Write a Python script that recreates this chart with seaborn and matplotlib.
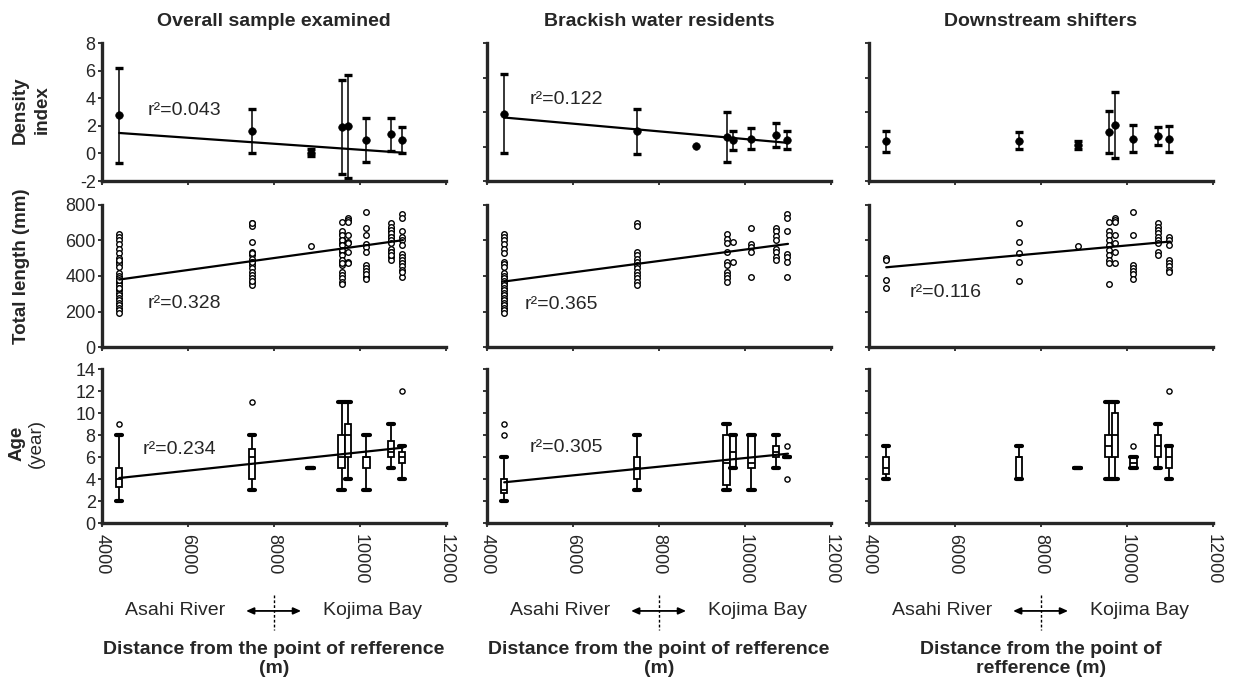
import numpy as np
import pandas as pd
import seaborn as sns
import matplotlib.pyplot as plt
from matplotlib import transforms

# sampling sites (distance from point of reference, m)
sites = [4400, 7490, 8850, 9570, 9730, 10150, 10720, 10970]

# density index, mean and SD per site
dens_all_mean = [2.75, 1.6, 0.05, 1.9, 1.95, 0.97, 1.4, 0.97]
dens_all_sd = [3.45, 1.6, 0.25, 3.4, 3.7, 1.6, 1.2, 0.95]
dens_bw_mean = [3.9, 2.87, 2.05, 2.55, 2.37, 2.46, 2.65, 2.37]
dens_bw_sd = [2.3, 1.3, np.nan, 1.45, 0.55, 0.62, 0.7, 0.52]
dens_ds_mean = [2.3, 2.34, 2.07, 2.84, 3.26, 2.44, 2.59, 2.44]
dens_ds_sd = [0.6, 0.5, 0.23, 1.2, 1.9, 0.78, 0.52, 0.73]

# total length (mm) of each fish, per site
tl_bw = [
    [637, 618, 600, 581, 553, 531, 480, 465, 452, 415, 402, 387, 374, 360, 347,
     332, 319, 304, 291, 277, 264, 249, 236, 221, 208, 194],
    [701, 683, 535, 517, 498, 480, 461, 443, 424, 406, 387, 369, 350],
    [],
    [637, 609, 585, 535, 480, 461, 424, 406, 387, 369],
    [591, 480],
    [673, 581, 563, 535, 396],
    [673, 655, 627, 600, 553, 535, 507, 489],
    [747, 729, 655, 526, 507, 480, 396],
]
tl_ds = [
    [501, 488, 377, 330],
    [700, 589, 529, 479, 371],
    [570],
    [705, 654, 631, 603, 575, 547, 520, 492, 474, 353],
    [727, 718, 705, 631, 585, 538, 474],
    [761, 631, 464, 446, 427, 409, 385],
    [696, 678, 659, 640, 622, 603, 585, 538, 520],
    [622, 603, 575, 492, 474, 455, 436, 424],
]
tl_all = [a + b for a, b in zip(tl_bw, tl_ds)]

# age (year): whisker low, Q1, median, Q3, whisker high; plus outliers
age_all = [(2, 3.25, 4, 5, 8), (3, 4, 6, 6.75, 8), (5, 5, 5, 5, 5), (3, 5, 6, 8, 11),
           (4, 6, 8, 9, 11), (3, 5, 6, 6, 8), (5, 6, 6.5, 7.5, 9), (4, 5.5, 6, 6.5, 7)]
age_all_out = [[9], [11], [], [], [], [], [], [12]]
age_bw = [(2, 2.75, 3, 4, 6), (3, 4, 5, 6, 8), None, (3, 3.5, 5.5, 8, 9),
          (5, 5, 6.5, 8, 8), (3, 5, 5.5, 8, 8), (5, 6, 6.5, 7, 8), (6, 6, 6, 6, 6)]
age_bw_out = [[8, 9], [], [], [], [], [], [], [7, 4]]
age_ds = [(4, 4.5, 5, 6, 7), (4, 4, 6, 6, 7), (5, 5, 5, 5, 5), (4, 6, 7, 8, 11),
          (4, 6, 8, 10, 11), (5, 5, 5.5, 6, 6), (5, 6, 7, 8, 9), (4, 5, 6, 7, 7)]
age_ds_out = [[], [], [], [], [], [7], [], [12]]

# regression lines (end points) and r2 labels
fit_x = [4400, 11000]
fit_dens_all = [1.48, 0.05]
fit_dens_bw = [3.68, 2.21]
fit_tl_all = [380, 602]
fit_tl_bw = [369, 581]
fit_tl_ds = [449, 594]
fit_age_all = [4.09, 6.85]
fit_age_bw = [3.7, 6.3]
r2_labels = ["r²=0.043", "r²=0.122", "r²=0.328", "r²=0.365", "r²=0.116",
             "r²=0.234", "r²=0.305"]

col_titles = ["Overall sample examined", "Brackish water residents", "Downstream shifters"]
xlab = ["Distance from the point of refference\n(m)",
        "Distance from the point of refference\n(m)",
        "Distance from the point of\nrefference (m)"]

sns.set_style("ticks")
plt.rcParams["font.family"] = ["Liberation Sans", "DejaVu Sans"]
plt.rcParams["axes.unicode_minus"] = False

W, H = 1238, 681
fig = plt.figure(figsize=(W / 100, H / 100), dpi=100)
col_left = [102, 487, 869]
col_w = 344
rows = [(43, 181), (205, 347), (369, 523)]
axes = [[fig.add_axes([c / W, 1 - b / H, col_w / W, (b - t) / H]) for c in col_left]
        for t, b in rows]


def density_panel(ax, mean, sd, fit=None):
    df = pd.DataFrame({"dist": sites, "dens": mean, "sd": sd})
    ax.errorbar(df["dist"], df["dens"], yerr=df["sd"], fmt="none", ecolor="black",
                elinewidth=1.1, capsize=2.8, capthick=2.4, zorder=2)
    sns.scatterplot(data=df, x="dist", y="dens", ax=ax, color="black", s=30,
                    edgecolor="black", zorder=3)
    if fit is not None:
        sns.lineplot(x=fit_x, y=fit, ax=ax, color="black", lw=1.6)


def length_panel(ax, groups, fit):
    df = pd.DataFrame([(d, v) for d, g in zip(sites, groups) for v in g],
                      columns=["dist", "tl"])
    sns.scatterplot(data=df, x="dist", y="tl", ax=ax, marker="o", s=16,
                    color="white", edgecolor="black", linewidth=1.0, zorder=3)
    sns.lineplot(x=fit_x, y=fit, ax=ax, color="black", lw=1.6, zorder=4)


def age_panel(ax, stats, outliers, fit=None):
    df = pd.DataFrame([(d, v) for d, st in zip(sites, stats) if st for v in st],
                      columns=["dist", "age"])
    sns.boxplot(data=df, x="dist", y="age", ax=ax, native_scale=True, orient="x",
                width=0.9, whis=(0, 100), showfliers=False, color="white",
                linecolor="black", linewidth=1.3, capprops={"linewidth": 3},
                capwidths=144)
    out = pd.DataFrame([(d, v) for d, o in zip(sites, outliers) for v in o],
                       columns=["dist", "age"])
    sns.scatterplot(data=out, x="dist", y="age", ax=ax, marker="o", s=14,
                    color="white", edgecolor="black", linewidth=1.0, zorder=3)
    if fit is not None:
        sns.lineplot(x=fit_x, y=fit, ax=ax, color="black", lw=1.6, zorder=4)


density_panel(axes[0][0], dens_all_mean, dens_all_sd, fit_dens_all)
density_panel(axes[0][1], dens_bw_mean, dens_bw_sd, fit_dens_bw)
density_panel(axes[0][2], dens_ds_mean, dens_ds_sd)
length_panel(axes[1][0], tl_all, fit_tl_all)
length_panel(axes[1][1], tl_bw, fit_tl_bw)
length_panel(axes[1][2], tl_ds, fit_tl_ds)
age_panel(axes[2][0], age_all, age_all_out, fit_age_all)
age_panel(axes[2][1], age_bw, age_bw_out, fit_age_bw)
age_panel(axes[2][2], age_ds, age_ds_out)

ylims = [(-2, 8), (0, 800), (0, 14)]
ysteps = [2, 200, 2]
for r in range(3):
    for c in range(3):
        ax = axes[r][c]
        ax.set_xlim(4000, 12000)
        ax.set_xticks(range(4000, 12001, 2000))
        lo, hi = ylims[r]
        if r == 0 and c > 0:
            lo = 0
        ax.set_ylim(lo, hi)
        ax.set_yticks(np.arange(lo, hi + 0.1, ysteps[r]))
        ax.set_xlabel("")
        ax.set_ylabel("")
        sns.despine(ax=ax)
        for s in ["left", "bottom"]:
            ax.spines[s].set_linewidth(2.4)
        ax.tick_params(length=3, width=1.3, labelsize=13, pad=1.5)
        ax.tick_params(axis="x", pad=5, labelrotation=-90, labelbottom=(r == 2))
        if c > 0:
            ax.tick_params(axis="y", labelleft=False)
        ax.patch.set_alpha(0)

# r2 labels
r2_pos = [(0, 0, 5050, 3.14), (0, 1, 5000, 4.73), (1, 0, 5050, 247), (1, 1, 4880, 242),
          (1, 2, 4950, 305), (2, 0, 4950, 6.66), (2, 1, 5000, 6.85)]
for (r, c, x, y), lab in zip(r2_pos, r2_labels):
    axes[r][c].text(x, y, lab, fontsize=14, ha="left", va="center")

# row labels, one text per line
row_text = [("Density", 20, 110, "bold"), ("index", 42, 110, "bold"),
            ("Total length (mm)", 22, 266, "bold"),
            ("Age", 17, 443, "bold"), ("(year)", 36, 443, "normal")]
for txt, px, py, wt in row_text:
    fig.text(px / W, 1 - py / H, txt, rotation=90, ha="center", va="center",
             fontsize=13.5, fontweight=wt)

# column titles
for c in range(3):
    fig.text((col_left[c] + col_w / 2) / W, 1 - 21 / H, col_titles[c], fontsize=14,
             fontweight="bold", ha="center", va="center")

# direction notes under the bottom axes
for c in range(3):
    ax = axes[2][c]
    tr = transforms.blended_transform_factory(ax.transData, ax.transAxes)
    ax.text(6870, -0.571, "Asahi River", transform=tr, ha="right", va="center",
            fontsize=14)
    ax.text(9140, -0.571, "Kojima Bay", transform=tr, ha="left", va="center",
            fontsize=14)
    ax.annotate("", xy=(8630, -0.571), xytext=(7350, -0.571), xycoords=tr,
                textcoords=tr,
                arrowprops=dict(arrowstyle="<|-|>,head_length=0.45,head_width=0.2",
                                color="black", lw=1.3, shrinkA=0, shrinkB=0))
    ax.plot([8000, 8000], [-0.468, -0.695], transform=tr, clip_on=False,
            color="black", lw=1.0, ls=(0, (2, 1.5)))
    ax.text(0.5, -0.883, xlab[c], transform=ax.transAxes, ha="center", va="center",
            fontsize=14, fontweight="bold")

fig.savefig("out.png", dpi=100)
